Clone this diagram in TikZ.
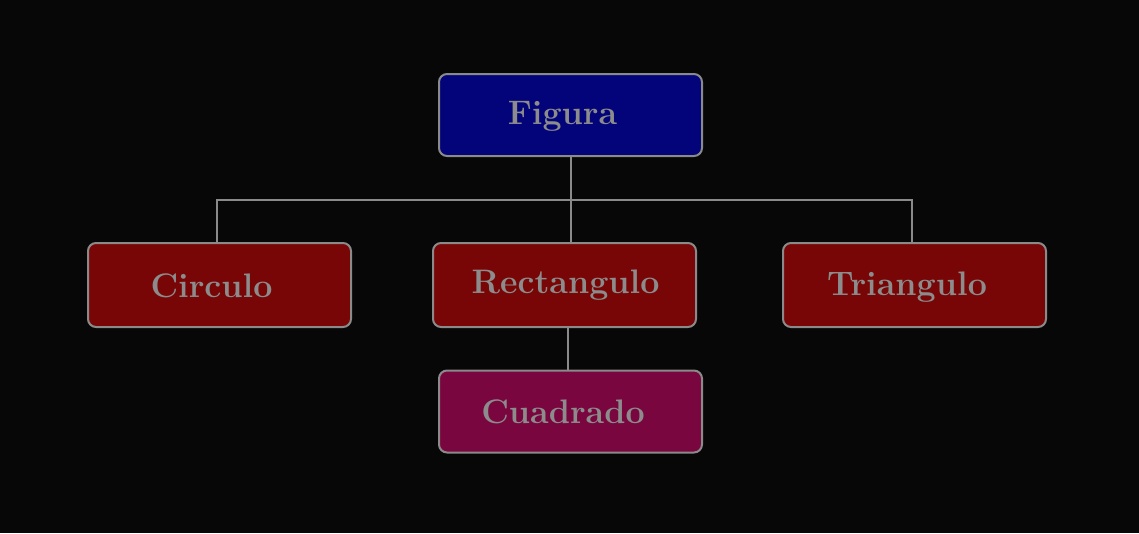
\documentclass[tikz,border=0pt]{standalone}
\definecolor{bg}{HTML}{070707}
\definecolor{navyfill}{HTML}{04047A}
\definecolor{redfill}{HTML}{780606}
\definecolor{plumfill}{HTML}{7A0640}
\definecolor{edgegray}{HTML}{8A8A8A}
\definecolor{textgray}{HTML}{8C8C8C}
\newcommand{\shifted}[3]{\smash{\raisebox{#2}{\hspace*{#1}#3\hspace*{-#1}}}}
\begin{document}
\begin{tikzpicture}[x=1pt,y=-1pt,
  box/.style={draw=edgegray,line width=2pt,rounded corners=8pt,minimum width=263pt,minimum height=82pt,
    text=textgray,font=\fontsize{34}{38}\selectfont\bfseries,inner sep=0pt,text height=0pt,text depth=0pt},
  conn/.style={draw=edgegray,line width=2pt}]
\fill[bg] (0,0) rectangle (1139,533);
\useasboundingbox (0,0) rectangle (1139,533);
\node[box,fill=navyfill] (fig) at (570.5,115) {\shifted{-8pt}{-9pt}{Figura}};
\node[box,fill=redfill,minimum height=84pt] (cir) at (219.5,285) {\shifted{-8pt}{-12pt}{Circulo}};
\node[box,fill=redfill,minimum height=84pt] (rec) at (564.5,285) {\shifted{1pt}{-8pt}{Rectangulo}};
\node[box,fill=redfill,minimum height=84pt] (tri) at (914.5,285) {\shifted{-7.5pt}{-10pt}{Triangulo}};
\node[box,fill=plumfill] (cua) at (570.5,411.5) {\shifted{-7.5pt}{-11.5pt}{Cuadrado}};
\coordinate (hl) at (217,200);
\coordinate (hr) at (912,200);
\draw[conn] (fig.south) -- (fig.south |- rec.north);
\draw[conn] (cir.north -| hl) -- (hl) -- (hr) -- (tri.north -| hr);
\draw[conn] ([xshift=3pt]rec.south) -- ([xshift=3pt]rec.south |- cua.north);
\end{tikzpicture}
\end{document}
